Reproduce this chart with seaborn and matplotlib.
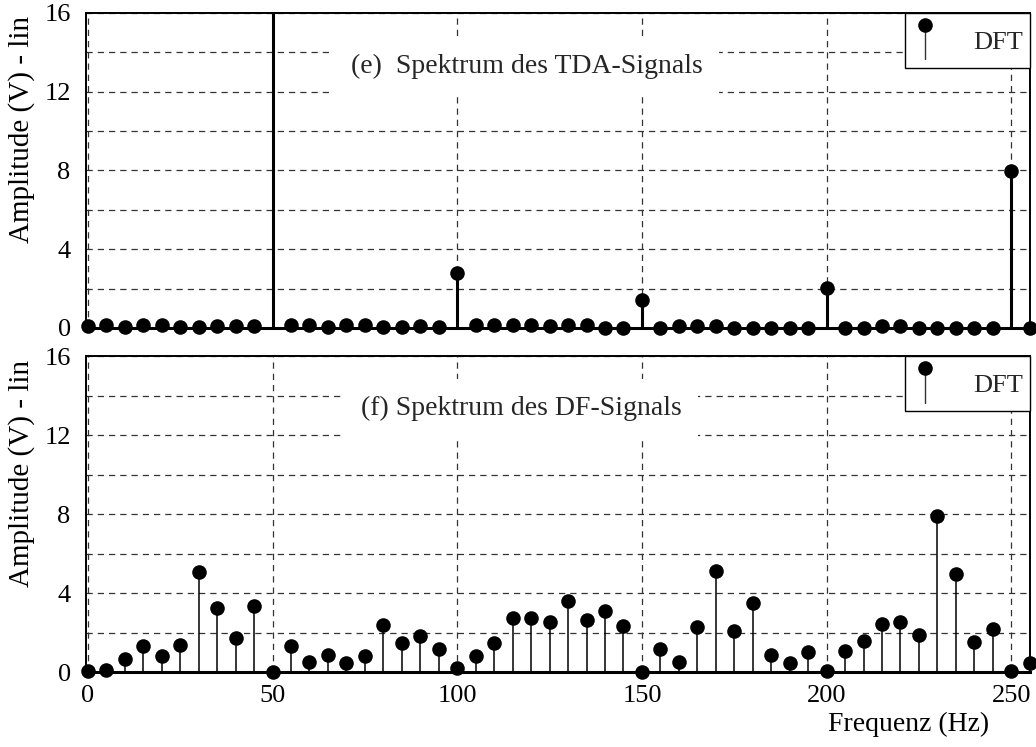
#Importing necessary libraries.
import numpy as np
import pandas as pd
import matplotlib
matplotlib.use("Agg")
import matplotlib.pyplot as plt
import seaborn as sns
from matplotlib.legend_handler import HandlerBase
from matplotlib.lines import Line2D

#Frequency bins (Hz) and amplitudes.
freq = [0, 5, 10, 15, 20, 25, 30, 35, 40, 45,
        50, 55, 60, 65, 70, 75, 80, 85, 90, 95,
        100, 105, 110, 115, 120, 125, 130, 135, 140, 145,
        150, 155, 160, 165, 170, 175, 180, 185, 190, 195,
        200, 205, 210, 215, 220, 225, 230, 235, 240, 245,
        250, 255]

tda_amp = [0.08, 0.17, 0.03, 0.17, 0.17, 0.03, 0.03, 0.08, 0.12, 0.08,
           40.0, 0.17, 0.17, 0.03, 0.17, 0.17, 0.03, 0.03, 0.08, 0.03,
           2.79, 0.17, 0.17, 0.17, 0.17, 0.08, 0.17, 0.17, 0.0, 0.0,
           1.44, 0.0, 0.12, 0.12, 0.12, 0.0, 0.0, 0.0, 0.0, 0.0,
           2.03, 0.0, 0.0, 0.12, 0.12, 0.0, 0.0, 0.0, 0.0, 0.0,
           7.96, 0.0]

df_amp = [0.08, 0.1, 0.68, 1.32, 0.81, 1.4, 5.06, 3.24, 1.74, 3.36,
          0.03, 1.35, 0.54, 0.88, 0.47, 0.81, 2.4, 1.49, 1.82, 1.18,
          0.2, 0.84, 1.49, 2.77, 2.77, 2.57, 3.63, 2.65, 3.09, 2.33,
          0.0, 1.18, 0.51, 2.28, 5.11, 2.11, 3.49, 0.88, 0.47, 1.05,
          0.08, 1.06, 1.57, 2.45, 2.53, 1.91, 7.93, 4.98, 1.52, 2.19,
          0.08, 0.47]

y_major = [0, 4, 8, 12, 16]
y_minor = [2, 6, 10, 14]
x_ticks = [0, 50, 100, 150, 200, 250]

sns.set_theme(style="white")
plt.rcParams['font.family'] = ['Liberation Serif', 'DejaVu Serif']


#Legend entry: marker on top of a thin stem.
class StemHandler(HandlerBase):
    def create_artists(self, legend, orig_handle, xdescent, ydescent,
                       width, height, fontsize, trans):
        cx = -xdescent + width * 0.3
        y0 = -ydescent + height * 0.05
        y1 = -ydescent + height * 0.87
        stem = Line2D([cx, cx], [y0, y1], color='#333333', lw=1.0, transform=trans)
        mark = Line2D([cx], [y1], marker='o', markersize=10.5, color='black',
                      markeredgewidth=0, transform=trans)
        return [stem, mark]


def draw_panel(ax, amp, stem_lw, title, tx, ty):
    df = pd.DataFrame({'freq': freq, 'amp': amp})
    ax.vlines(df['freq'], 0, df['amp'], color='black', lw=stem_lw, zorder=3)
    shown = df[df['amp'] <= 16]
    sns.scatterplot(data=shown, x='freq', y='amp', ax=ax, color='black',
                    s=110, linewidth=0, zorder=4, clip_on=False)
    ax.set_xlim(-0.5, 255)
    ax.set_ylim(0, 16)
    ax.set_yticks(y_major)
    ax.set_yticks(y_minor, minor=True)
    ax.set_xticks(x_ticks)
    ax.set_axisbelow(True)
    ax.grid(which='both', axis='y', ls=(0, (5, 4)), color='#333333', lw=0.9)
    ax.grid(which='major', axis='x', ls=(0, (5, 4)), color='#333333', lw=0.9)
    ax.tick_params(axis='both', which='both', length=0, labelsize=19, colors='black')
    ax.tick_params(axis='y', pad=11)
    ax.tick_params(axis='x', pad=9)
    for side in ['left', 'right', 'top']:
        ax.spines[side].set_color('black')
        ax.spines[side].set_linewidth(1.4)
    ax.spines['bottom'].set_color('black')
    ax.spines['bottom'].set_linewidth(2.2)
    ax.set_xlabel('')
    ax.set_ylabel('Amplitude (V) - lin', fontsize=21, color='black')
    ax.yaxis.set_label_coords(-0.054, 0.63)
    ax.text(tx, ty, title, transform=ax.transAxes, fontsize=20, ha='center',
            va='center', zorder=5,
            bbox=dict(boxstyle='square,pad=0.6', facecolor='white', edgecolor='none'))
    h = Line2D([], [], color='black')
    leg = ax.legend([h], ['DFT'], handler_map={Line2D: StemHandler()},
                    loc='upper right', fontsize=19, frameon=True, fancybox=False,
                    borderaxespad=0, borderpad=0.25, handlelength=1.67,
                    handleheight=2.07, handletextpad=0.68)
    leg.get_frame().set_edgecolor('black')
    leg.get_frame().set_linewidth(1.0)
    leg.get_frame().set_alpha(1)
    leg.set_zorder(6)


fig = plt.figure(figsize=(10.36, 7.47), dpi=100)
ax1 = fig.add_axes([0.083, 0.561, 0.911, 0.422])
ax2 = fig.add_axes([0.083, 0.100, 0.911, 0.423])

draw_panel(ax1, tda_amp, 2.2, '(e)  Spektrum des TDA-Signals', 0.467, 0.828)
ax1.set_xticklabels([])
draw_panel(ax2, df_amp, 1.1, '(f) Spektrum des DF-Signals', 0.461, 0.835)

ax2.set_xlabel('Frequenz (Hz)', fontsize=20, color='black', ha='right')
ax2.xaxis.set_label_coords(0.957, -0.125)

plt.savefig('out.png', dpi=100)
